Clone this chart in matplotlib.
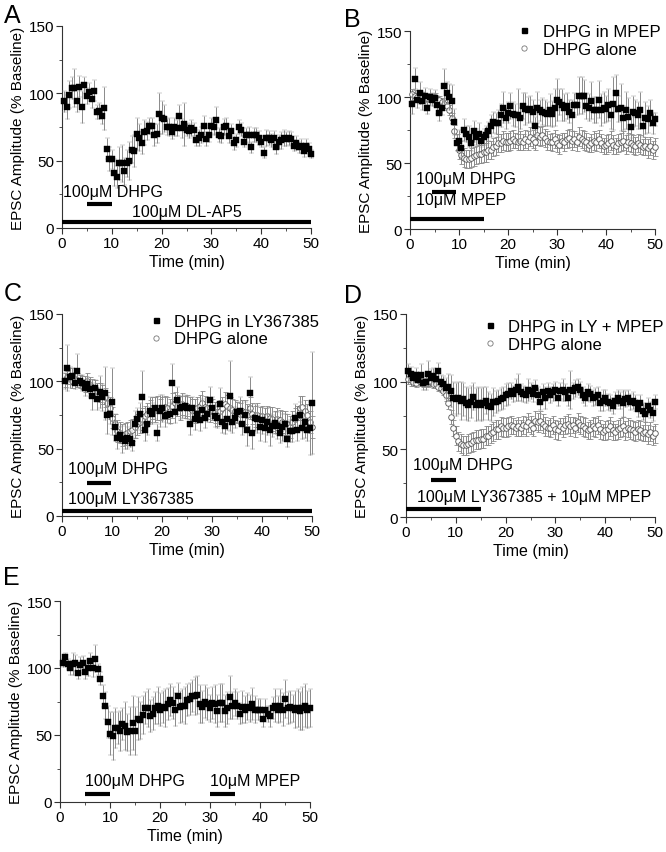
import numpy as np
import matplotlib
matplotlib.use('Agg')
import matplotlib.pyplot as plt
from matplotlib.ticker import MultipleLocator
from matplotlib.lines import Line2D

plt.rcParams['font.family'] = ['Liberation Sans', 'DejaVu Sans']

# ---------------- DATA (values every 0.5 min, 0.5 .. 50 min) ----------------
a_dhpg = [94, 90, 99, 104, 104, 94, 105, 90, 106, 98,
          101, 96, 102, 86, 87, 83, 89, 59, 51, 51,
          41, 38, 48, 48, 42, 48, 50, 58, 57, 70,
          67, 63, 71, 72, 76, 76, 69, 70, 85, 82,
          81, 75, 75, 71, 75, 74, 83, 74, 77, 73,
          72, 74, 73, 65, 67, 69, 76, 66, 69, 76,
          75, 80, 69, 68, 75, 76, 68, 72, 63, 65,
          75, 73, 64, 69, 69, 60, 69, 69, 67, 64,
          56, 67, 67, 65, 67, 60, 64, 65, 67, 66,
          67, 66, 61, 63, 60, 61, 57, 61, 59, 55]
a_err = [8, 9, 10, 8, 14, 8, 8, 12, 6, 6,
         7, 7, 8, 5, 6, 6, 16, 8, 9, 7,
         10, 8, 12, 14, 10, 10, 14, 10, 12, 12,
         10, 8, 9, 7, 6, 6, 8, 7, 15, 12,
         10, 6, 7, 5, 7, 6, 8, 7, 16, 5,
         5, 6, 5, 4, 6, 6, 7, 5, 5, 6,
         6, 10, 5, 5, 6, 6, 5, 5, 5, 5,
         5, 5, 4, 5, 6, 4, 5, 5, 5, 4,
         4, 6, 5, 5, 5, 5, 5, 6, 6, 5,
         5, 5, 4, 5, 4, 5, 4, 5, 4, 3]

b_mpep = [95, 114, 98, 103, 97, 101, 92, 100, 98, 99,
          94, 88, 92, 108, 103, 100, 97, 81, 65, 67,
          61, 75, 72, 70, 65, 74, 70, 72, 67, 70,
          71, 74, 78, 81, 80, 80, 86, 92, 84, 88,
          93, 87, 86, 86, 84, 93, 91, 90, 91, 89,
          78, 92, 90, 89, 88, 87, 90, 87, 92, 98,
          96, 94, 92, 93, 89, 86, 94, 94, 101, 101,
          101, 93, 92, 97, 90, 90, 98, 90, 92, 91,
          94, 86, 95, 103, 91, 92, 84, 90, 85, 77,
          89, 88, 86, 90, 78, 84, 83, 88, 80, 83]
b_mpep_err = [8, 8, 6, 8, 7, 6, 5, 6, 5, 6,
              7, 6, 6, 13, 8, 10, 12, 10, 6, 8,
              6, 8, 6, 8, 6, 8, 6, 8, 5, 6,
              7, 7, 8, 8, 8, 10, 9, 12, 8, 8,
              10, 9, 9, 20, 8, 10, 12, 10, 10, 9,
              7, 12, 8, 10, 10, 9, 12, 10, 14, 16,
              10, 12, 10, 10, 9, 12, 9, 8, 14, 14,
              12, 10, 10, 14, 10, 10, 14, 12, 12, 10,
              12, 10, 20, 14, 10, 18, 9, 14, 14, 8,
              12, 10, 10, 14, 8, 12, 10, 10, 8, 5]

ctrl_alone = [102, 101, 100, 99, 101, 100, 99, 100, 99, 100,
              98, 98, 96, 95, 93, 90, 84, 74, 66, 60,
              56, 54, 53, 53, 54, 55, 56, 57, 57, 58,
              58, 60, 60, 62, 63, 65, 65, 67, 66, 66,
              67, 68, 67, 66, 67, 66, 68, 67, 70, 68,
              66, 71, 70, 71, 69, 67, 66, 66, 68, 65,
              64, 67, 66, 68, 69, 67, 68, 66, 70, 68,
              67, 66, 64, 65, 67, 66, 68, 65, 63, 64,
              65, 67, 64, 63, 65, 66, 67, 64, 66, 65,
              64, 63, 65, 64, 62, 63, 61, 63, 60, 62]
ctrl_err = [4, 4, 3, 3, 3, 3, 3, 3, 3, 3,
            3, 3, 3, 3, 3, 4, 4, 5, 6, 7,
            7, 7, 7, 7, 7, 7, 7, 7, 7, 7,
            7, 7, 7, 7, 7, 7, 7, 7, 7, 7,
            7, 7, 6, 6, 7, 6, 7, 7, 7, 7,
            6, 7, 7, 7, 7, 7, 6, 7, 7, 7,
            7, 6, 7, 7, 7, 7, 6, 7, 7, 7,
            7, 7, 6, 7, 7, 7, 7, 7, 6, 7,
            7, 7, 7, 6, 7, 7, 7, 7, 7, 7,
            7, 7, 7, 7, 6, 7, 7, 7, 7, 7]

c_ly = [100, 110, 103, 104, 99, 108, 100, 99, 95, 98,
        94, 89, 95, 87, 92, 88, 91, 75, 76, 85,
        66, 58, 60, 57, 56, 58, 57, 54, 68, 72,
        76, 88, 64, 68, 78, 76, 80, 62, 78, 80,
        74, 75, 76, 99, 77, 86, 80, 81, 82, 80,
        68, 80, 72, 76, 71, 79, 73, 76, 86, 80,
        74, 73, 83, 70, 67, 72, 89, 70, 73, 77,
        78, 68, 75, 64, 91, 62, 73, 72, 66, 71,
        65, 70, 64, 67, 69, 67, 62, 66, 68, 57,
        63, 63, 73, 64, 75, 65, 70, 64, 65, 84]
c_ly_err = [6, 17, 8, 6, 5, 12, 5, 6, 6, 5,
            6, 10, 6, 8, 12, 10, 20, 14, 8, 25,
            10, 8, 6, 10, 6, 8, 6, 6, 10, 8,
            8, 20, 8, 8, 10, 8, 8, 6, 12, 10,
            8, 6, 8, 14, 8, 10, 8, 8, 8, 8,
            8, 8, 8, 6, 8, 8, 8, 6, 10, 8,
            8, 8, 12, 8, 6, 8, 26, 8, 8, 8,
            10, 8, 10, 12, 12, 12, 10, 10, 10, 10,
            10, 10, 12, 8, 8, 10, 8, 10, 8, 6,
            8, 8, 10, 8, 10, 8, 12, 8, 20, 38]
c_alone = [101, 103, 104, 100, 102, 101, 100, 99, 98, 100,
           97, 96, 95, 93, 92, 90, 88, 84, 80, 73,
           68, 63, 62, 60, 61, 62, 63, 64, 66, 68,
           70, 72, 74, 76, 78, 80, 79, 80, 79, 80,
           81, 80, 78, 82, 84, 82, 80, 83, 81, 82,
           80, 79, 78, 80, 82, 84, 81, 80, 78, 79,
           77, 76, 78, 80, 83, 82, 80, 79, 78, 77,
           76, 78, 77, 75, 80, 76, 74, 75, 73, 74,
           72, 74, 73, 72, 70, 72, 71, 70, 69, 68,
           66, 70, 72, 74, 80, 81, 78, 75, 70, 66]
c_alone_err = [5, 5, 6, 5, 5, 5, 5, 5, 6, 6,
               6, 6, 6, 6, 7, 7, 7, 8, 8, 8,
               8, 8, 8, 8, 8, 8, 8, 8, 8, 8,
               8, 8, 8, 8, 8, 8, 9, 9, 8, 8,
               8, 8, 9, 9, 8, 8, 9, 8, 8, 8,
               8, 8, 9, 8, 8, 9, 8, 8, 8, 8,
               8, 9, 8, 8, 9, 8, 8, 8, 8, 8,
               8, 8, 9, 8, 8, 8, 8, 9, 8, 8,
               8, 8, 8, 9, 8, 8, 8, 8, 9, 8,
               8, 8, 8, 8, 9, 8, 8, 8, 8, 8]

d_lympep = [108, 106, 103, 105, 101, 105, 99, 100, 106, 103,
            104, 102, 108, 100, 98, 95, 96, 93, 88, 87,
            88, 86, 87, 84, 83, 85, 89, 83, 84, 83,
            84, 86, 82, 81, 85, 85, 86, 87, 88, 90,
            91, 93, 91, 94, 96, 92, 91, 90, 94, 93,
            91, 95, 90, 85, 92, 88, 93, 90, 92, 94,
            88, 93, 94, 92, 88, 94, 93, 95, 96, 94,
            90, 88, 92, 91, 88, 89, 90, 84, 86, 88,
            85, 84, 82, 86, 88, 86, 84, 87, 88, 85,
            86, 84, 80, 84, 78, 76, 82, 79, 77, 85]
d_lympep_err = [5, 5, 4, 5, 4, 8, 5, 6, 9, 6,
                6, 5, 6, 5, 6, 8, 10, 12, 12, 12,
                12, 14, 12, 12, 12, 12, 10, 12, 12, 12,
                12, 10, 10, 10, 10, 8, 8, 8, 8, 8,
                8, 6, 6, 8, 10, 6, 6, 6, 8, 6,
                6, 6, 6, 6, 6, 8, 6, 6, 6, 6,
                6, 6, 8, 6, 6, 14, 6, 6, 6, 6,
                6, 6, 6, 6, 6, 6, 6, 6, 8, 6,
                6, 6, 6, 6, 6, 6, 10, 6, 6, 6,
                6, 6, 6, 6, 6, 6, 6, 6, 6, 5]

e_dhpg = [104, 108, 103, 100, 103, 104, 96, 102, 104, 97,
          100, 105, 100, 107, 99, 92, 79, 72, 60, 51,
          49, 55, 55, 53, 58, 57, 52, 53, 59, 53,
          62, 61, 65, 70, 70, 64, 66, 70, 72, 69,
          71, 70, 73, 76, 74, 69, 79, 71, 72, 72,
          76, 77, 79, 79, 80, 73, 71, 75, 73, 70,
          74, 73, 68, 74, 74, 68, 70, 78, 72, 74,
          72, 66, 71, 69, 71, 70, 73, 69, 69, 69,
          62, 69, 66, 64, 70, 72, 69, 72, 69, 77,
          70, 71, 70, 69, 70, 68, 70, 72, 69, 70]
e_err = [3, 3, 4, 5, 8, 6, 4, 6, 5, 5,
         6, 6, 7, 10, 4, 5, 8, 10, 12, 16,
         18, 15, 12, 15, 12, 18, 14, 18, 20, 18,
         16, 14, 14, 12, 14, 12, 12, 12, 14, 12,
         12, 14, 12, 12, 12, 12, 10, 12, 12, 14,
         12, 12, 12, 14, 14, 14, 12, 12, 12, 10,
         12, 14, 12, 14, 14, 12, 12, 16, 10, 10,
         10, 8, 12, 10, 10, 10, 12, 10, 8, 8,
         6, 8, 6, 8, 8, 12, 10, 12, 12, 14,
         12, 12, 10, 14, 14, 14, 16, 16, 14, 14]

# drug application bars: (start, end, level, label, label_x, label_y)
a_bars = [(5, 10, 18, '100μM DHPG', 0.2, 27), (0, 50, 4.5, '100μM DL-AP5', 25, 12.5)]
b_bars = [(4.5, 9.3, 28, '100μM DHPG', 1.2, 38), (0, 15, 7.6, '10μM MPEP', 1.2, 22)]
c_bars = [(5, 9.8, 24.5, '100μM DHPG', 1.2, 35), (0, 50, 3.5, '100μM LY367385', 1.2, 13)]
d_bars = [(5, 10, 27, '100μM DHPG', 1.4, 39), (0, 15, 6, '100μM LY367385 + 10μM MPEP', 2.2, 15.5)]
e_bars = [(5, 10, 6, '100μM DHPG', 5, 16), (30, 35, 6, '10μM MPEP', 30, 16)]

FIG_W, FIG_H = 666, 853
fig = plt.figure(figsize=(FIG_W / 100, FIG_H / 100), dpi=100)


def make_ax(x0, x1, ytop, ybot):
    return fig.add_axes([x0 / FIG_W, 1 - ybot / FIG_H, (x1 - x0) / FIG_W, (ybot - ytop) / FIG_H])


def style(ax):
    ax.set_xlim(0, 50)
    ax.set_ylim(0, 150)
    for s in ('top', 'right'):
        ax.spines[s].set_visible(False)
    for s in ('left', 'bottom'):
        ax.spines[s].set_linewidth(0.8)
        ax.spines[s].set_color('#333333')
    ax.xaxis.set_major_locator(MultipleLocator(10))
    ax.xaxis.set_minor_locator(MultipleLocator(5))
    ax.yaxis.set_major_locator(MultipleLocator(50))
    ax.yaxis.set_minor_locator(MultipleLocator(25))
    ax.tick_params(which='major', direction='out', length=4, width=0.8, labelsize=11, pad=1.5, colors='#333333', labelcolor='black')
    ax.tick_params(which='minor', direction='out', length=2, width=0.6, colors='#333333')
    ax.set_xlabel('Time (min)', fontsize=11.5, labelpad=3)
    ax.set_ylabel('EPSC Amplitude (% Baseline)', fontsize=11, labelpad=3)


def times(v):
    return 0.5 * np.arange(1, len(v) + 1)


def filled(ax, vals, errs):
    ax.errorbar(times(vals), vals, yerr=errs, fmt='s', ms=3.8, mfc='black', mec='black', mew=0.3,
                ecolor='#8a8a8a', elinewidth=0.7, capsize=1.8, capthick=0.7, zorder=4, clip_on=False)


def hollow(ax, vals, errs):
    ax.errorbar(times(vals), vals, yerr=errs, fmt='o', ms=4.0, mfc='white', mec='#555555', mew=0.6,
                ecolor='#8a8a8a', elinewidth=0.7, capsize=1.8, capthick=0.7, zorder=3, clip_on=False)


def bars(ax, spec):
    for (s, e, lvl, lab, lx, ly) in spec:
        ax.plot([s, e], [lvl, lvl], color='black', lw=3, solid_capstyle='butt', zorder=5, clip_on=False)
        ha = 'center' if lx == 25 else 'left'
        ax.text(lx, ly, lab, fontsize=11.5, ha=ha, va='center', zorder=6)


def legend(ax, lab1, lab2, x, y):
    h1 = Line2D([], [], ls='none', marker='s', ms=3.6, mfc='black', mec='black')
    h2 = Line2D([], [], ls='none', marker='o', ms=3.8, mfc='white', mec='#777777', mew=0.6)
    ax.legend([h1, h2], [lab1, lab2], loc='upper left', bbox_to_anchor=(x, y), frameon=False,
              fontsize=12, handlelength=0.8, handletextpad=0.7, labelspacing=0.15, borderpad=0, borderaxespad=0)


# Panel A
axA = make_ax(62, 311, 27, 229)
style(axA)
filled(axA, a_dhpg, a_err)
bars(axA, a_bars)

# Panel B
axB = make_ax(410, 655, 32, 230)
style(axB)
hollow(axB, ctrl_alone, ctrl_err)
filled(axB, b_mpep, b_mpep_err)
bars(axB, b_bars)
legend(axB, 'DHPG in MPEP', 'DHPG alone', 0.44, 1.035)

# Panel C
axC = make_ax(62, 312, 315, 517)
style(axC)
hollow(axC, c_alone, c_alone_err)
filled(axC, c_ly, c_ly_err)
bars(axC, c_bars)
legend(axC, 'DHPG in LY367385', 'DHPG alone', 0.35, 1.0)

# Panel D
axD = make_ax(406, 655, 315, 518)
style(axD)
hollow(axD, ctrl_alone, ctrl_err)
filled(axD, d_lympep, d_lympep_err)
bars(axD, d_bars)
legend(axD, 'DHPG in LY + MPEP', 'DHPG alone', 0.31, 0.975)

# Panel E
axE = make_ax(60, 310, 602, 803)
style(axE)
filled(axE, e_dhpg, e_err)
bars(axE, e_bars)

# Panel letters
for lab, px, py in [('A', 4, 4), ('B', 344, 8), ('C', 4, 282), ('D', 344, 284), ('E', 3, 566)]:
    fig.text(px / FIG_W, 1 - py / FIG_H, lab, fontsize=18, ha='left', va='top')

fig.savefig('out.png', dpi=100)
